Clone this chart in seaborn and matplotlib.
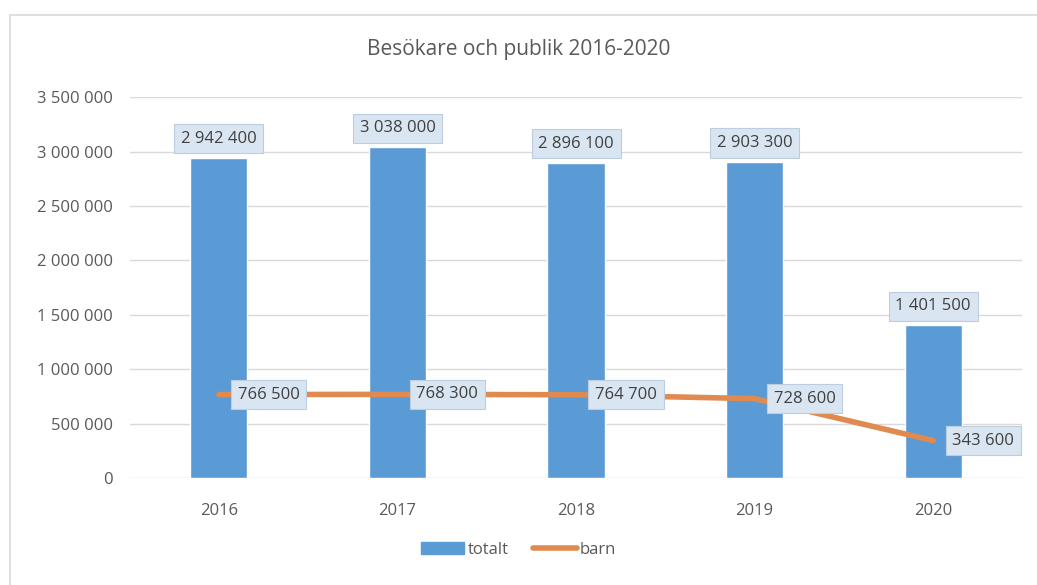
import matplotlib.pyplot as plt
import matplotlib.patches as mpatches
from matplotlib.lines import Line2D
import seaborn as sns
import numpy as np

years = ['2016', '2017', '2018', '2019', '2020']
totalt = [2942400, 3038000, 2896100, 2903300, 1401500]
barn = [766500, 768300, 764700, 728600, 343600]

sns.set_theme(style="white")
plt.rcParams['font.family'] = ['Open Sans', 'DejaVu Sans']

bar_color = '#5b9bd5'
line_color = '#e08a50'
text_color = '#595959'
box = dict(boxstyle='square,pad=0.4', facecolor='#d9e5f1', edgecolor='#bccde0', linewidth=0.8)


def fmt(v):
    return f'{v:,}'.replace(',', ' ')


fig = plt.figure(figsize=(10.37, 5.85), dpi=100)
ax = fig.add_axes([0.125, 0.183, 0.861, 0.651])

sns.barplot(x=years, y=totalt, color=bar_color, width=0.32, saturation=1, ax=ax)
sns.lineplot(x=np.arange(len(years)), y=barn, color=line_color, linewidth=4, ax=ax)

ax.set_xlim(-0.5, 4.5)
ax.set_ylim(0, 3500000)
ax.set_yticks(np.arange(0, 3500001, 500000))
ax.set_yticklabels([fmt(v) for v in np.arange(0, 3500001, 500000)])
ax.yaxis.grid(True, color='#d9d9d9', linewidth=1)
ax.set_axisbelow(True)
for s in ax.spines.values():
    s.set_visible(False)
ax.tick_params(axis='both', length=0, labelsize=12, colors=text_color)
ax.tick_params(axis='x', pad=18)
ax.tick_params(axis='y', pad=12)
ax.set_xlabel('')
ax.set_ylabel('')

# data labels
for i, v in enumerate(totalt):
    ax.annotate(fmt(v), (i, v), xytext=(0, 11), textcoords='offset pixels',
                ha='center', va='bottom', fontsize=12, color='#404040', bbox=box)
for i, v in enumerate(barn):
    ax.annotate(fmt(v), (i, v), xytext=(19, 0), textcoords='offset pixels',
                ha='left', va='center', fontsize=12, color='#404040', bbox=box)

fig.text(0.5, 0.915, 'Besökare och publik 2016-2020', ha='center', va='center',
         fontsize=15, color=text_color)

handles = [mpatches.Patch(color=bar_color, label='totalt'),
           Line2D([0], [0], color=line_color, linewidth=4, label='barn')]
fig.legend(handles=handles, loc='center', bbox_to_anchor=(0.5, 0.06), ncol=2,
           frameon=False, fontsize=12, labelcolor=text_color, handlelength=2.6,
           handletextpad=0.2, columnspacing=1.5)

# chart frame
fig.patches.append(mpatches.Rectangle((0.01, -0.05), 1.2, 1.024, transform=fig.transFigure,
                                      fill=False, edgecolor='#d9d9d9', linewidth=1.2))

fig.savefig('out.png', dpi=100)
